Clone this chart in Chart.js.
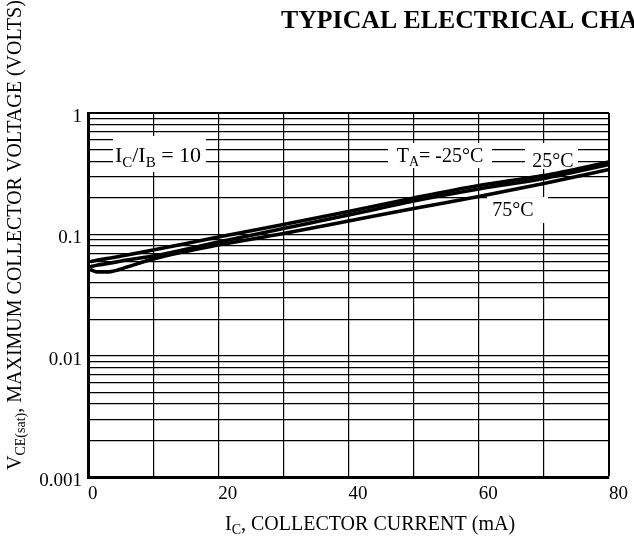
<!DOCTYPE html>
<html>
<head>
<meta charset="utf-8">
<script src="https://cdn.jsdelivr.net/npm/chart.js@4.4.1/dist/chart.umd.min.js"></script>
<style>
  html, body { margin: 0; padding: 0; background: #fff; }
  #wrap { width: 634px; height: 541px; position: relative; }
</style>
</head>
<body>
<div id="wrap"><canvas id="c" width="634" height="541"></canvas></div>
<script>
// ---- data ----
const currents = [0.5, 1.5, 3.5, 6, 10, 20, 30, 40, 50, 60, 70, 80];          // I_C (mA)
const vce25 = [0.0597, 0.0614, 0.0638, 0.0675, 0.0742, 0.0950, 0.1205, 0.1542, 0.1992, 0.2525, 0.3053, 0.3945];   // volts
const vceMinus25 = [0.0543, 0.0558, 0.0580, 0.0614, 0.0662, 0.0864, 0.1116, 0.1442, 0.1881, 0.2362, 0.2884, 0.3762];
const vce75 = [0.0508, 0.0489, 0.0493, 0.0537, 0.0626, 0.0816, 0.1015, 0.1287, 0.1632, 0.2049, 0.2623, 0.3421];
const seriesNames = ['T_A = 25°C', 'T_A = -25°C', 'T_A = 75°C'];
const xTickLabels = ['0', '20', '40', '60', '80'];
const yTickLabels = ['0.001', '0.01', '0.1', '1'];
const yDecades = [0.001, 0.01, 0.1];
const mantissas = [1, 2, 3, 4, 5, 6, 7, 8, 9];

const SERIF = '"Liberation Serif", "Times New Roman", Times, serif';
Chart.defaults.font.family = SERIF;
Chart.defaults.color = '#000';

function toPts(ys) { return currents.map((x, i) => ({ x: x, y: ys[i] })); }

// rich text: segments [{t, sub}]
function richWidth(ctx, segs, size) {
  let w = 0;
  segs.forEach(s => {
    ctx.font = (s.sub ? Math.round(size * 0.7) : size) + 'px ' + SERIF;
    w += ctx.measureText(s.t).width;
  });
  return w;
}
function drawRich(ctx, segs, x, y, size, align) {
  const w = richWidth(ctx, segs, size);
  let cx = align === 'center' ? x - w / 2 : (align === 'right' ? x - w : x);
  ctx.textBaseline = 'alphabetic';
  ctx.textAlign = 'left';
  segs.forEach(s => {
    const fs = s.sub ? Math.round(size * 0.7) : size;
    ctx.font = fs + 'px ' + SERIF;
    ctx.fillText(s.t, cx, y + (s.sub ? size * 0.22 : 0));
    cx += ctx.measureText(s.t).width;
  });
  return w;
}

// annotations in data coordinates (I_C mA, volts)
const notes = [
  { segs: [{t:'I'},{t:'C',sub:true},{t:'/I'},{t:'B',sub:true},{t:' = 10'}], x: 10.75, y: 0.3945, size: 22,
    box: [3.84, 18.1, 0.646, 0.3265] },
  { segs: [{t:'T'},{t:'A',sub:true},{t:'= -25°C'}], x: 54.05, y: 0.3945, size: 20,
    box: [46.07, 62.03, 0.5656, 0.3522] },
  { segs: [{t:'25°C'}], x: 71.4, y: 0.3588, size: 20,
    box: [67.1, 75.24, 0.5656, 0.345] },
  { segs: [{t:'75°C'}], x: 65.26, y: 0.1416, size: 20,
    box: [61.27, 70.63, 0.203, 0.1239] }
];

const notesPlugin = {
  id: 'notes',
  beforeDatasetsDraw(chart) {
    const ctx = chart.ctx, xs = chart.scales.x, ys = chart.scales.y;
    ctx.save();
    notes.forEach(n => {
      const x0 = xs.getPixelForValue(n.box[0]), x1 = xs.getPixelForValue(n.box[1]);
      const y0 = ys.getPixelForValue(n.box[2]), y1 = ys.getPixelForValue(n.box[3]);
      ctx.fillStyle = '#fff';
      ctx.fillRect(x0, y0, x1 - x0, y1 - y0);
      ctx.fillStyle = '#000';
      drawRich(ctx, n.segs, xs.getPixelForValue(n.x), ys.getPixelForValue(n.y), n.size, 'center');
    });
    ctx.restore();
  },
  afterDraw(chart) {
    const ctx = chart.ctx;
    ctx.save();
    ctx.fillStyle = '#000';
    // title
    ctx.font = 'bold 25.8px ' + SERIF;
    ctx.textAlign = 'left';
    ctx.textBaseline = 'alphabetic';
    ctx.fillText('TYPICAL ELECTRICAL CHARACTERISTICS', 281, 28);
    // x axis title
    drawRich(ctx, [{t:'I'},{t:'C',sub:true},{t:', COLLECTOR CURRENT (mA)'}], 370, 530, 20, 'center');
    // y axis title
    ctx.translate(21, 470);
    ctx.rotate(-Math.PI / 2);
    drawRich(ctx, [{t:'V'},{t:'CE(sat)',sub:true},{t:', MAXIMUM COLLECTOR VOLTAGE (VOLTS)'}], 0, 0, 20, 'left');
    ctx.restore();
  }
};

const lineStyle = { borderColor: '#000', borderWidth: 3.6, pointRadius: 0, fill: false,
  cubicInterpolationMode: 'monotone', borderCapStyle: 'round', borderJoinStyle: 'round' };

new Chart(document.getElementById('c'), {
  type: 'line',
  data: {
    datasets: [
      Object.assign({ label: seriesNames[0], data: toPts(vce25) }, lineStyle),
      Object.assign({ label: seriesNames[1], data: toPts(vceMinus25) }, lineStyle),
      Object.assign({ label: seriesNames[2], data: toPts(vce75) }, lineStyle)
    ]
  },
  options: {
    responsive: false,
    devicePixelRatio: 1,
    animation: false,
    layout: { padding: { left: 30, top: 113, right: 25, bottom: 30 } },
    plugins: { legend: { display: false }, tooltip: { enabled: false }, title: { display: false } },
    scales: {
      x: {
        type: 'linear', min: 0, max: 80,
        afterFit: s => { s.height = 34; },
        grid: { color: '#000', drawTicks: false,
          lineWidth: c => (c.tick && c.tick.value === 80 ? 2 : 1.2) },
        border: { color: '#000', width: 3 },
        ticks: { stepSize: 10, align: 'start', padding: 6, font: { size: 19 }, color: '#000',
          callback: v => (xTickLabels.includes(String(v)) ? String(v) : '') }
      },
      y: {
        type: 'logarithmic', min: 0.001, max: 1,
        afterFit: s => { s.width = 58; },
        afterBuildTicks: s => {
          const t = [];
          yDecades.forEach(d => mantissas.forEach(m => t.push({ value: +(m * d).toPrecision(3) })));
          t.push({ value: 1 });
          s.ticks = t;
        },
        grid: { color: '#000', drawTicks: false,
          lineWidth: c => (c.tick && c.tick.value === 1 ? 2 : 1.2) },
        border: { color: '#000', width: 3 },
        ticks: { padding: 6, labelOffset: 4, font: { size: 19 }, color: '#000', autoSkip: false,
          callback: v => { const s = yTickLabels.find(l => Math.abs(parseFloat(l) - v) < 1e-9); return s || ''; } }
      }
    }
  },
  plugins: [notesPlugin]
});
</script>
</body>
</html>
